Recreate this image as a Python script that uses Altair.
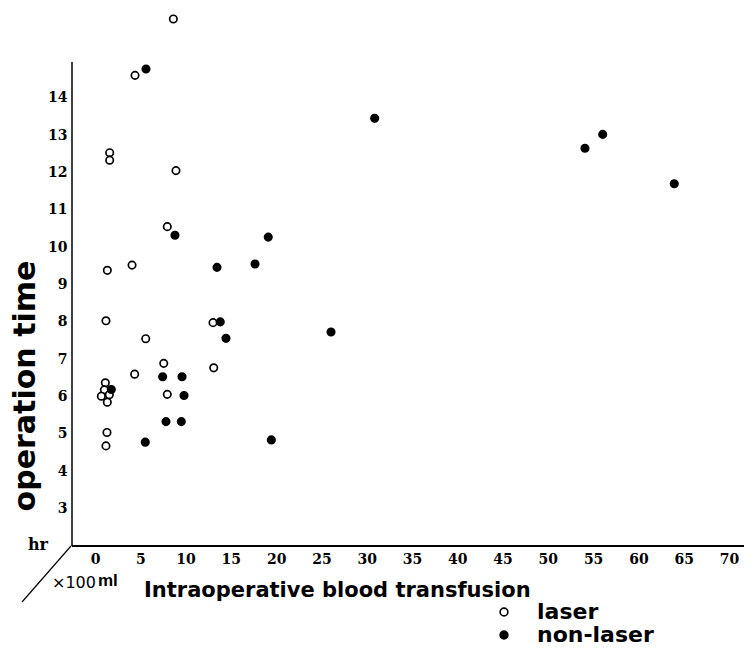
import altair as alt
import pandas as pd

# ---- data (x: blood transfusion ×100 ml, y: operation time hr)
laser_x = [8.65, 4.42, 1.62, 1.62, 8.94, 7.98, 1.36, 4.09, 1.21, 5.60, 13.03,
           7.59, 4.38, 13.11, 1.14, 1.03, 0.70, 1.58, 1.36, 7.98, 1.32, 1.21]
laser_y = [16.11, 14.60, 12.53, 12.33, 12.05, 10.55, 9.38, 9.52, 8.03, 7.55, 7.98,
           6.89, 6.60, 6.77, 6.37, 6.18, 6.01, 6.05, 5.85, 6.06, 5.04, 4.68]
nonlaser_x = [5.63, 8.83, 13.47, 13.83, 14.46, 7.47, 9.61, 1.80, 9.83, 7.84,
              9.53, 5.55, 30.88, 54.10, 56.06, 63.96, 19.13, 17.67, 26.06, 19.47]
nonlaser_y = [14.77, 10.32, 9.46, 8.00, 7.56, 6.53, 6.53, 6.19, 6.03, 5.33,
              5.33, 4.78, 13.45, 12.65, 13.02, 11.70, 10.27, 9.55, 7.73, 4.84]
groups = ["laser", "non-laser"]
x_ticks = [0, 5, 10, 15, 20, 25, 30, 35, 40, 45, 50, 55, 60, 65, 70]
y_ticks = [3, 4, 5, 6, 7, 8, 9, 10, 11, 12, 13, 14]

x_title = "Intraoperative blood transfusion"
y_title = "operation time"
y_unit = "hr"
x_unit_a = "×100"
x_unit_b = "ml"

df = pd.DataFrame({
    "transfusion": laser_x + nonlaser_x,
    "time": laser_y + nonlaser_y,
    "group": [groups[0]] * len(laser_x) + [groups[1]] * len(nonlaser_x),
})

X_DOMAIN = [-2.54, 71.66]
Y_DOMAIN = [2, 16.35]
W, H = 672, 536

points = alt.Chart(df).mark_point(
    shape="circle", filled=True, stroke="black", strokeWidth=1.7, size=55, opacity=1
).encode(
    x=alt.X("transfusion:Q",
            scale=alt.Scale(domain=X_DOMAIN, nice=False, zero=False),
            axis=alt.Axis(values=x_ticks, title=None, domain=False, ticks=False, grid=False,
                          labelPadding=6, labelFlush=False, labelOverlap=False)),
    y=alt.Y("time:Q",
            scale=alt.Scale(domain=Y_DOMAIN, nice=False, zero=False),
            axis=alt.Axis(values=y_ticks, title=None, domain=False, ticks=False, grid=False,
                          labelPadding=5, labelOverlap=False)),
    fill=alt.Fill("group:N",
                  scale=alt.Scale(domain=groups, range=["white", "black"]),
                  legend=alt.Legend(title=None, orient="none", legendX=421, legendY=591)),
)

one = pd.DataFrame({"k": [0]})

y_axis_line = alt.Chart(one).mark_rule(color="black", strokeWidth=1.5).encode(
    x=alt.value(0), y=alt.value(536), y2=alt.value(52))
x_axis_line = alt.Chart(one).mark_rule(color="black", strokeWidth=2).encode(
    x=alt.value(0), x2=alt.value(W), y=alt.value(536))
diag_line = alt.Chart(one).mark_rule(color="black", strokeWidth=1.2).encode(
    x=alt.value(-1), x2=alt.value(-50), y=alt.value(536), y2=alt.value(592))

def label(text, x, y, font, size, weight="normal", align="left", baseline="alphabetic", angle=0):
    return alt.Chart(one).mark_text(
        font=font, fontSize=size, fontWeight=weight, align=align, baseline=baseline,
        angle=angle, color="black"
    ).encode(x=alt.value(x), y=alt.value(y), text=alt.value(text))

t_x = label(x_title, 72, 587, "DejaVu Sans", 21, "bold")
t_y = label(y_title, -46, 376, "DejaVu Sans", 30, "bold", align="center", baseline="middle", angle=270)
t_hr = label(y_unit, -24, 540, "DejaVu Serif", 16, "bold", align="right")
t_u1 = label(x_unit_a, -20, 578, "DejaVu Sans", 16)
t_u2 = label(x_unit_b, 26, 576, "Liberation Sans", 17, "bold")

chart = alt.layer(
    y_axis_line, x_axis_line, diag_line, points, t_x, t_y, t_hr, t_u1, t_u2
).properties(
    width=W, height=H,
    padding={"left": 64, "top": 2, "right": 0, "bottom": 102},
    autosize=alt.AutoSizeParams(type="none"),
    background="white",
).configure_view(
    strokeWidth=0
).configure_axis(
    labelFont="DejaVu Serif", labelFontWeight="bold", labelFontSize=14, labelColor="black"
).configure_legend(
    labelFont="DejaVu Sans", labelFontWeight="bold", labelFontSize=22, labelColor="black",
    symbolSize=60, symbolStrokeColor="black", symbolStrokeWidth=1.6, symbolType="circle",
    rowPadding=1, padding=0, labelOffset=22
)

chart.save("out.html", embed_options={"renderer": "svg", "actions": False})
